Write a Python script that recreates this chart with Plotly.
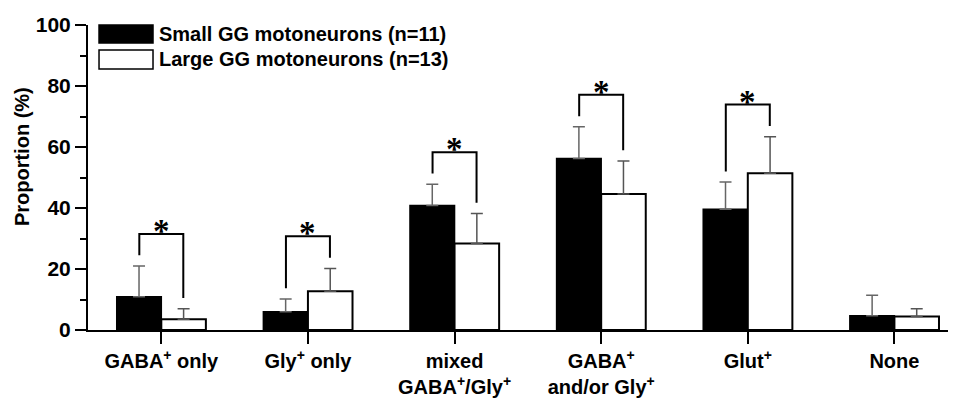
import plotly.graph_objects as go

categories = ["GABA<sup>+</sup> only", "Gly<sup>+</sup> only", "mixed<br>GABA<sup>+</sup>/Gly<sup>+</sup>",
              "GABA<sup>+</sup><br>and/or Gly<sup>+</sup>", "Glut<sup>+</sup>", "None"]
small_name = "Small GG motoneurons (n=11)"
large_name = "Large GG motoneurons (n=13)"
y_title = "Proportion (%)"
small_vals = [10.9, 6.0, 40.8, 56.2, 39.6, 4.7]
small_err = [10.1, 4.2, 7.0, 10.4, 8.9, 6.7]
large_vals = [3.5, 12.7, 28.4, 44.6, 51.4, 4.4]
large_err = [3.5, 7.5, 9.8, 10.8, 12.0, 2.6]
significant = [True, True, True, True, True, False]

idx = list(range(len(categories)))

fig = go.Figure()
fig.add_trace(go.Bar(
    x=idx, y=small_vals, name=small_name,
    marker=dict(color="black", line=dict(color="black", width=1.5)),
    error_y=dict(type="data", array=small_err, arrayminus=[0]*6, symmetric=False,
                 color="#666666", thickness=1.5, width=6),
    showlegend=False))
fig.add_trace(go.Bar(
    x=idx, y=large_vals, name=large_name,
    marker=dict(color="white", line=dict(color="black", width=2)),
    error_y=dict(type="data", array=large_err, arrayminus=[0]*6, symmetric=False,
                 color="#555555", thickness=1.5, width=6),
    showlegend=False))

shapes = []
annotations = []
off = 0.15
for i, sig in enumerate(significant):
    if not sig:
        continue
    ls = small_vals[i] + small_err[i]
    lr = large_vals[i] + large_err[i]
    top = max(ls, lr) + 10.5
    shapes.append(dict(type="path", xref="x", yref="y",
                       path=f"M {i-off},{ls+3.5} L {i-off},{top} L {i+off},{top} L {i+off},{lr+3.5}",
                       line=dict(color="black", width=2)))
    annotations.append(dict(x=i, y=top, xref="x", yref="y", text="<b>*</b>", showarrow=False,
                            yanchor="bottom", yshift=-17,
                            font=dict(family="Liberation Serif", size=33, color="black")))

# x-axis extension to the left (like reference axis line)
shapes.append(dict(type="line", xref="paper", yref="y", x0=-11/868, x1=0, y0=0, y1=0,
                   line=dict(color="black", width=2)))

# legend drawn manually
leg = [(small_name, "black", 1.0, 0.941, 0.970), (large_name, "white", 0.918, 0.856, 0.887)]
for name, col, y1, y0, yt in leg:
    shapes.append(dict(type="rect", xref="paper", yref="paper", x0=0.0127, x1=0.0749, y0=y0, y1=y1,
                       fillcolor=col, line=dict(color="black", width=1.5)))
    annotations.append(dict(x=0.080, y=yt, xref="paper", yref="paper", text=f"<b>{name}</b>",
                            showarrow=False, xanchor="left", yanchor="middle",
                            font=dict(family="Liberation Sans", size=20, color="black")))

# y-axis title
annotations.append(dict(x=-0.076, y=0.567, xref="paper", yref="paper", text=f"<b>{y_title}</b>",
                        showarrow=False, textangle=-90, xanchor="center", yanchor="middle",
                        font=dict(family="Liberation Sans", size=20, color="black")))

# page body has an 8px margin: shift figure geometry accordingly
fig.update_layout(
    width=948, height=392,
    margin=dict(l=80, r=0, t=17, b=70),
    plot_bgcolor="white", paper_bgcolor="white",
    barmode="group", bargap=0.392, bargroupgap=0,
    shapes=shapes, annotations=annotations,
    font=dict(family="Liberation Sans", color="black"),
    xaxis=dict(range=[-0.5, 5.42], tickmode="array", tickvals=idx,
               ticktext=[f"<b>{c}</b>" for c in categories],
               ticks="outside", ticklen=12, tickwidth=2, tickcolor="black",
               showline=True, linewidth=2, linecolor="black", showgrid=False, zeroline=False,
               automargin=False,
               tickfont=dict(size=20, family="Liberation Sans", color="black")),
    yaxis=dict(range=[0, 100], dtick=20, ticks="outside", ticklen=11, tickwidth=2, tickcolor="black",
               showline=True, linewidth=2, linecolor="black", showgrid=False, zeroline=False,
               automargin=False,
               minor=dict(dtick=10, ticks="outside", ticklen=6, tickwidth=2, tickcolor="black"),
               tickfont=dict(size=21, family="Liberation Sans", color="black"),
               tickprefix="<b>", ticksuffix="</b>"),
)

fig.write_html("out.html")
